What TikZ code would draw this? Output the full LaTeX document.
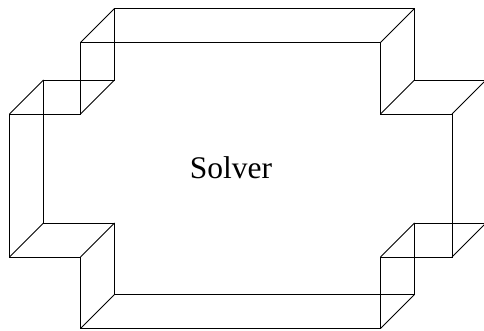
\documentclass[tikz,border=0pt]{standalone}
\usepackage{fontspec}
\setmainfont{Liberation Serif}
\begin{document}
\begin{tikzpicture}[x=1pt,y=-1pt,line width=0.9pt]
    \clip (0,0) rectangle (484,331);

    \draw (80.5,42.5)--(380.5,42.5)--(380.5,114)--(452,114)
    --(452,257)--(380.5,257)--(380.5,328.5)--(80.5,328.5)
    --(80.5,257)--(9.5,257)--(9.5,114)--(80.5,114)--cycle;

    \draw (114.5,8.5)--(414.5,8.5)--(414.5,80)--(486,80)
    --(486,223)--(414.5,223)--(414.5,294.5)--(114.5,294.5)
    --(114.5,223)--(43.5,223)--(43.5,80)--(114.5,80)--cycle;

    \foreach \x/\y in {80.5/42.5,380.5/42.5,380.5/114,452/114,452/257,380.5/257,380.5/328.5,80.5/328.5,80.5/257,9.5/257,9.5/114,80.5/114}
    {
        \draw (\x,\y)--(\x+34,\y-34);
    }

    \node[font=\fontsize{31.5}{31.5}\selectfont] (solver) at (231,167.5) {Solver};
\end{tikzpicture}
\end{document}
